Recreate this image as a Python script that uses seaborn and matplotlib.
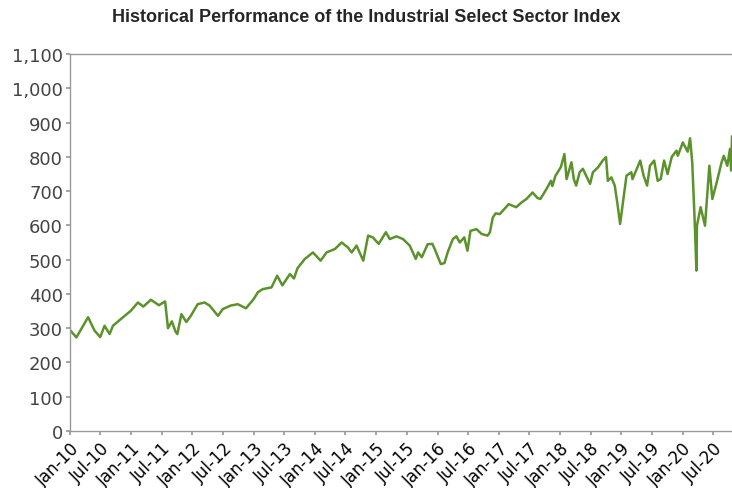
import pandas as pd
import matplotlib.pyplot as plt
import matplotlib.dates as mdates
import matplotlib.ticker as mticker
import seaborn as sns

sns.set_theme(style="ticks")
plt.rcParams["font.family"] = ["DejaVu Sans"]

# values (index level)
dates = [
    "2010-01-04", "2010-02-08", "2010-04-19", "2010-05-27", "2010-06-30", "2010-07-26",
    "2010-08-25", "2010-09-14", "2010-11-01", "2010-12-30", "2011-02-10", "2011-03-14",
    "2011-04-28", "2011-06-15", "2011-07-22", "2011-08-08", "2011-08-31", "2011-09-22",
    "2011-10-03", "2011-10-27", "2011-11-25", "2011-12-22", "2012-02-01", "2012-03-13",
    "2012-04-12", "2012-06-01", "2012-06-30", "2012-08-16", "2012-09-27", "2012-11-15",
    "2012-12-31", "2013-01-25", "2013-02-23", "2013-04-16", "2013-05-20", "2013-06-20",
    "2013-08-04", "2013-08-28", "2013-09-18", "2013-11-01", "2013-12-19", "2014-02-03",
    "2014-03-10", "2014-04-29", "2014-06-08", "2014-07-15", "2014-08-07", "2014-09-05",
    "2014-10-15", "2014-11-13", "2014-12-11", "2015-01-15", "2015-02-27", "2015-03-22",
    "2015-05-01", "2015-06-09", "2015-07-19", "2015-08-24", "2015-09-07", "2015-09-29",
    "2015-11-03", "2015-12-01", "2015-12-15", "2016-01-20", "2016-02-11", "2016-03-01",
    "2016-04-01", "2016-04-22", "2016-05-12", "2016-06-08", "2016-06-27", "2016-07-15",
    "2016-08-20", "2016-09-19", "2016-10-25", "2016-11-08", "2016-11-25", "2016-12-12",
    "2017-01-06", "2017-02-28", "2017-04-13", "2017-05-16", "2017-06-14", "2017-07-20",
    "2017-08-18", "2017-09-05", "2017-10-11", "2017-11-07", "2017-11-15", "2017-12-04",
    "2018-01-05", "2018-01-26", "2018-02-08", "2018-03-09", "2018-03-23", "2018-04-06",
    "2018-04-27", "2018-05-16", "2018-06-28", "2018-07-15", "2018-08-14", "2018-09-13",
    "2018-10-01", "2018-10-12", "2018-11-02", "2018-11-22", "2018-12-07", "2018-12-24",
    "2019-01-10", "2019-01-31", "2019-03-01", "2019-03-08", "2019-04-23", "2019-05-13",
    "2019-06-03", "2019-06-20", "2019-07-15", "2019-08-05", "2019-08-23", "2019-09-12",
    "2019-10-03", "2019-10-28", "2019-11-25", "2019-12-03", "2020-01-02", "2020-01-31",
    "2020-02-14", "2020-02-27", "2020-03-12", "2020-03-23", "2020-03-26", "2020-04-17",
    "2020-05-13", "2020-06-08", "2020-06-26", "2020-07-22", "2020-08-20", "2020-09-02",
    "2020-09-23", "2020-10-09", "2020-10-16", "2020-10-21",
]
values = [
    293, 273, 332, 293, 274, 307,
    283, 307, 327, 351, 375, 363,
    383, 367, 378, 300, 320, 290,
    283, 341, 318, 336, 370, 375,
    366, 336, 356, 366, 370, 358,
    385, 405, 414, 419, 453, 425,
    458, 445, 475, 502, 521, 497,
    521, 531, 550, 536, 521, 541,
    497, 570, 565, 546, 580, 560,
    568, 560, 541, 502, 521, 507,
    545, 546, 531, 487, 490, 521,
    560, 568, 550, 565, 526, 584,
    589, 575, 570, 580, 623, 635,
    633, 662, 653, 667, 677, 696,
    680, 677, 706, 730, 715, 745,
    770, 808, 735, 784, 735, 716,
    755, 765, 721, 755, 769, 790,
    799, 730, 740, 716, 667, 604,
    667, 745, 755, 735, 789, 745,
    716, 774, 789, 730, 735, 789,
    750, 800, 818, 803, 842, 815,
    854, 784, 619, 468, 599, 653,
    599, 774, 677, 726, 784, 803,
    774, 823, 760, 860,
]

df = pd.DataFrame({"date": pd.to_datetime(dates), "level": values})

tick_dates = pd.date_range("2010-01-01", "2020-07-01", freq="6MS")
y_ticks = list(range(0, 1101, 100))

fig = plt.figure(figsize=(7.32, 4.89), dpi=100)
ax = fig.add_axes([70 / 732, 57 / 489, 662 / 732, 377 / 489])

sns.lineplot(data=df, x="date", y="level", color="#5b922b", linewidth=1.8, ax=ax)

ax.set_xlim(pd.Timestamp("2010-01-01"), df["date"].max())
ax.set_ylim(0, 1100)
ax.set_yticks(y_ticks)
ax.yaxis.set_major_formatter(mticker.FuncFormatter(lambda v, p: f"{int(v):,}"))
ax.set_xticks(tick_dates)
ax.xaxis.set_major_formatter(mdates.DateFormatter("%b-%y"))

for lab in ax.get_xticklabels():
    lab.set_rotation(45)
    lab.set_ha("right")
    lab.set_rotation_mode("anchor")
    lab.set_fontsize(12)
    lab.set_color("black")

ax.tick_params(axis="y", labelsize=13, labelcolor="#444444", length=3, color="#999999", pad=2)
ax.tick_params(axis="x", length=3, color="#999999", pad=3)

ax.set_xlabel("")
ax.set_ylabel("")
for side in ["left", "bottom", "top"]:
    ax.spines[side].set_color("#999999")
    ax.spines[side].set_linewidth(1)
ax.spines["right"].set_visible(False)

fig.text(0.5, 1 - 17 / 489, "Historical Performance of the Industrial Select Sector Index",
         ha="center", va="center", fontsize=13, fontweight="bold",
         family=["Liberation Sans", "DejaVu Sans"])

fig.savefig("out.png", dpi=100)
